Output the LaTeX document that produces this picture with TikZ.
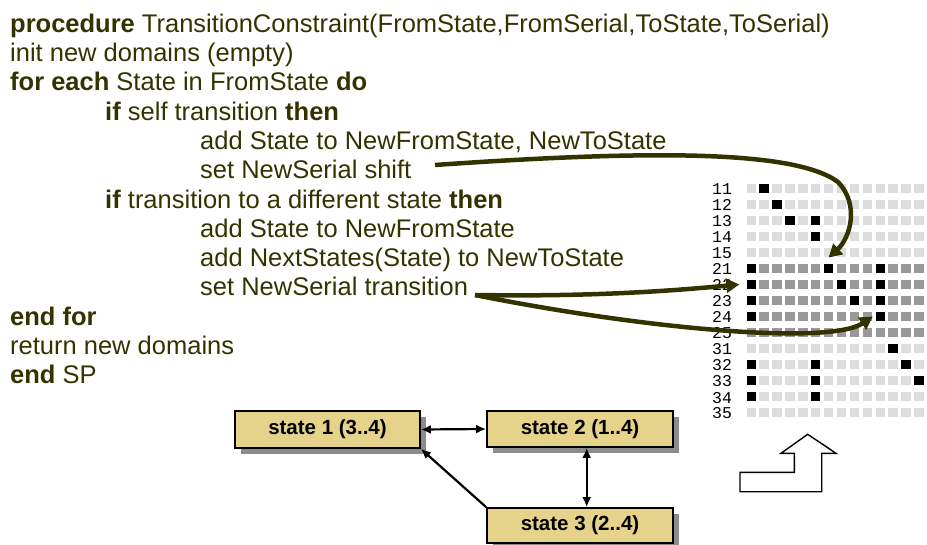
\documentclass[tikz,border=0pt]{standalone}
\usepackage{fontspec}
\setmainfont{Liberation Sans}
\newfontfamily\monof{Liberation Mono}
\usetikzlibrary{arrows.meta,calc,shadows}
\definecolor{txtol}{HTML}{333300}
\definecolor{boxfill}{HTML}{E6D38B}
\definecolor{lgray}{HTML}{DDDDDD}
\definecolor{dgray}{HTML}{999999}
\tikzset{
  code/.style={anchor=base west, inner sep=0pt, text=txtol, font=\fontsize{25.5}{29}\selectfont},
  lbl/.style={anchor=base west, inner sep=0pt, font=\monof\fontsize{16.5}{18}\selectfont},
  cell/.style={minimum size=9.4pt, inner sep=0pt, draw=none},
  stbox/.style={draw=black, line width=1.8pt, fill=boxfill, inner sep=0pt,
    font=\bfseries\fontsize{20.5}{24}\selectfont,
    drop shadow={shadow xshift=6pt, shadow yshift=-6pt, fill=black!45, opacity=1}},
  conn/.style={draw=black, line width=2.2pt},
  curve/.style={draw=txtol, line width=4.5pt, -{Triangle[length=13pt,width=14pt]}},
}
\begin{document}
\begin{tikzpicture}[x=1pt,y=-1pt]
\useasboundingbox (0,0) rectangle (927,545);
% pseudo-code
\node[code] (l1) at (10,32.3) {\textbf{procedure} TransitionConstraint(FromState,FromSerial,ToState,ToSerial)};
\node[code] (l2) at (10,61.6) {init new domains (empty)};
\node[code] (l3) at (10,90.9) {\textbf{for each} State in FromState \textbf{do}};
\node[code] (l4) at (105,120.2) {\textbf{if} self transition \textbf{then}};
\node[code] (l5) at (200,149.5) {add State to NewFromState, NewToState};
\node[code] (l6) at (200,178.8) {set NewSerial shift};
\node[code] (l7) at (105,208.1) {\textbf{if} transition to a different state \textbf{then}};
\node[code] (l8) at (200,237.4) {add State to NewFromState};
\node[code] (l9) at (200,266.7) {add NextStates(State) to NewToState};
\node[code] (l10) at (200,296) {set NewSerial transition};
\node[code] (l11) at (10,325.3) {\textbf{end for}};
\node[code] (l12) at (10,354.6) {return new domains};
\node[code] (l13) at (10,383.9) {\textbf{end} SP};
% grid
\foreach \lab/\col [count=\r from 0] in {11/lgray,12/lgray,13/lgray,14/lgray,15/lgray,21/dgray,22/dgray,23/dgray,24/dgray,25/dgray,31/lgray,32/lgray,33/lgray,34/lgray,35/lgray} {
  \node[lbl] (lab\lab) at (712,188.5+16*\r+6.5) {\lab};
  \foreach \c in {0,...,13} {
    \node[cell, fill=\col] (c\lab-\c) at (751.2+12.9*\c,188.5+16*\r) {};
  }
}
\foreach \lab/\c in {11/1,12/2,13/3,13/5,14/5,21/0,21/6,21/10,22/0,22/7,22/10,23/0,23/8,23/10,24/0,24/10,31/11,32/0,32/5,32/12,33/0,33/5,33/13,34/0,34/5}
  \node[cell, fill=black] at (c\lab-\c) {};
% curved arrows
\coordinate (a1) at (435,165);
\coordinate (a2) at (475,295);
\draw[curve] (a1) .. controls (650,150) and (795,150) .. (838,182)
  .. controls (860,205) and (850,238) .. ([yshift=6pt]c21-6.north);
\draw[curve] (a2) .. controls (600,297) and (680,290) .. ([xshift=-7pt]c22-0.west);
\draw[curve] (a2) .. controls (650,330) and (830,345) .. ([xshift=-2.5pt]c24-10.west);
% state boxes
\node[stbox, minimum width=185pt, minimum height=37pt] (s1) at (327.5,429.5) {state 1 (3..4)};
\node[stbox, minimum width=186pt, minimum height=36pt] (s2) at (580,429) {state 2 (1..4)};
\node[stbox, minimum width=186pt, minimum height=35pt] (s3) at (580,525.5) {state 3 (2..4)};
\draw[conn, {Latex[length=10pt,width=9pt]}-{Latex[length=10pt,width=9pt]}] (s1.east) -- (s2.west);
\draw[conn, {Latex[length=10pt,width=9pt]}-{Latex[length=10pt,width=9pt]}] ([xshift=6.7pt]s2.south) -- ([xshift=6.7pt]s3.north);
\draw[conn, -{Latex[length=10pt,width=9pt]}] (s3.north west) -- (s1.south east);
% hollow arrow
\draw[line width=1.4pt, fill=white] (740,491.7) -- (740,472.3) -- (794.3,472.3) -- (794.3,453.3) -- (781,453.3) -- (807.7,434.3) -- (836,453.3) -- (821.7,453.3) -- (821.7,491.7) -- cycle;
\end{tikzpicture}
\end{document}
